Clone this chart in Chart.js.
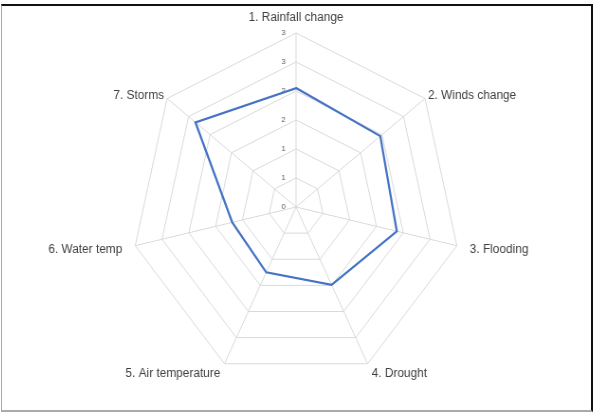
<!DOCTYPE html>
<html lang="en">
<head>
  <meta charset="UTF-8" />
  <title>Climate change perception radar</title>
  <style>
    html, body {
      margin: 0;
      padding: 0;
      background: #fff;
    }
    #frame {
      position: absolute;
      left: 1px;
      top: 4px;
      width: 589px;
      height: 404px;
      border-top: 2px solid #111;
      border-right: 2px solid #111;
      border-left: 1px solid #aaa;
      border-bottom: 2px solid #aaa;
      background: #fff;
    }
    #chart-box {
      position: absolute;
      left: 0;
      top: -4px;
      width: 589px;
      height: 404px;
    }
    /* the source picture is a little narrower than it is tall */
    #radarChart {
      transform: scaleX(0.948);
      transform-origin: 50% 50%;
    }
  </style>
</head>
<body>
  <div id="frame">
    <div id="chart-box">
      <canvas id="radarChart"></canvas>
    </div>
  </div>

  <script src="https://cdn.jsdelivr.net/npm/chart.js"></script>
  <script>
    // categories around the web (clockwise from top)
    const categories = [
      '1. Rainfall change',
      '2. Winds change',
      '3. Flooding',
      '4. Drought',
      '5. Air temperature',
      '6. Water temp',
      '7. Storms'
    ];

    // mean scores
    const scores = [2.05, 1.96, 1.88, 1.49, 1.25, 1.19, 2.34];

    // axis range
    const axisMin = 0;
    const axisMax = 3;
    const axisStep = 0.5;

    const tickFont = { family: 'Liberation Sans', size: 8 };
    const tickColor = '#595959';
    const tickPad = '\u00a0'.repeat(12);

    // excel centres the labels on a point just off each corner;
    // only the top one keeps a full line box
    const labelPadding = [2, -2, 8, 4, 4, 8, -2];

    // chart.js skips the label of the first tick on a radial scale,
    // so the "0" at the centre is written here from the scale itself
    const zeroLabel = {
      id: 'zeroLabel',
      afterDatasetsDraw(chart) {
        const r = chart.scales.r;
        const c = chart.ctx;
        c.save();
        c.font = tickFont.size + 'px ' + tickFont.family;
        c.fillStyle = tickColor;
        c.textAlign = 'center';
        c.textBaseline = 'middle';
        const y = r.yCenter - r.getDistanceFromCenterForValue(axisMin);
        c.fillText(Math.round(axisMin) + tickPad, r.xCenter, y);
        c.restore();
      }
    };

    const ctx = document.getElementById('radarChart').getContext('2d');
    new Chart(ctx, {
      type: 'radar',
      data: {
        labels: categories,
        datasets: [{
          label: 'Score',
          data: scores,
          fill: false,
          borderColor: '#4472c4',
          borderWidth: 2.25,
          pointRadius: 0,
          pointHoverRadius: 0,
          tension: 0
        }]
      },
      options: {
        responsive: true,
        maintainAspectRatio: false,
        animation: false,
        layout: {
          padding: { top: 0, bottom: 10, left: 0, right: 0 }
        },
        plugins: {
          legend: { display: false },
          tooltip: { enabled: false }
        },
        scales: {
          r: {
            min: axisMin,
            max: axisMax,
            beginAtZero: true,
            grid: { color: '#d9d9d9', lineWidth: 1 },
            angleLines: { color: '#d9d9d9', lineWidth: 1 },
            ticks: {
              stepSize: axisStep,
              showLabelBackdrop: false,
              color: tickColor,
              font: tickFont,
              // excel style "0" number format, pushed left of the axis
              callback: v => Math.round(v) + tickPad
            },
            pointLabels: {
              color: '#404040',
              padding: c => labelPadding[c.index],
              font: c => ({
                family: 'Liberation Sans',
                size: 12.5,
                lineHeight: c.index === 0 ? 1.2 : 0.05
              })
            }
          }
        }
      },
      plugins: [zeroLabel]
    });
  </script>
</body>
</html>
